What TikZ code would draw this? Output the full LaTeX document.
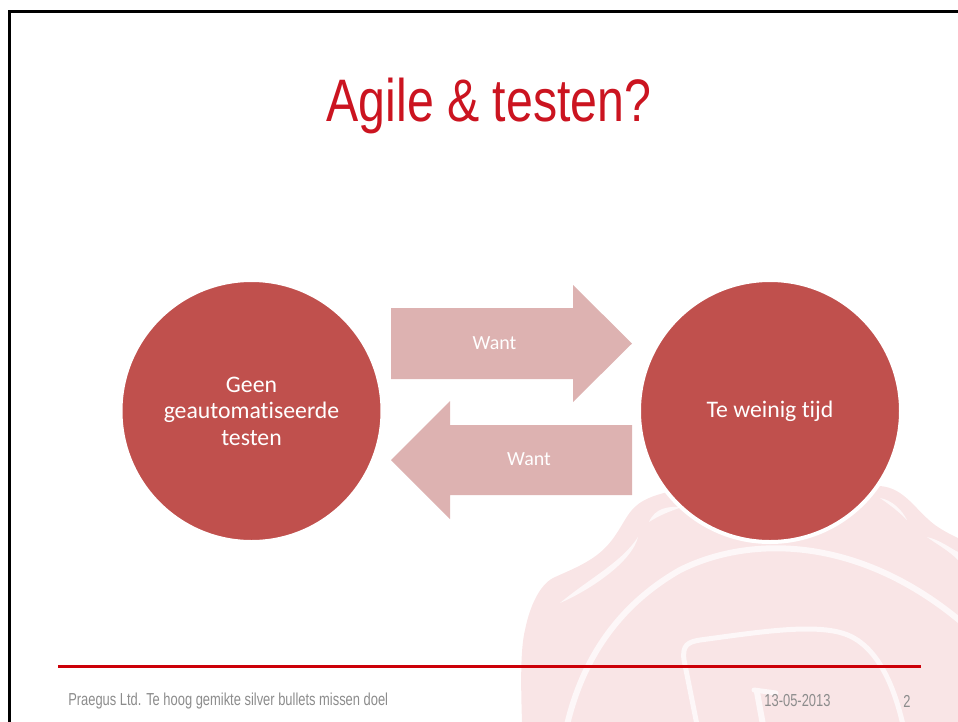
\documentclass[tikz,border=0pt]{standalone}
\usepackage{fontspec}
\setmainfont[Ligatures=NoCommon]{Carlito}
\newfontfamily\titlefont[FakeStretch=0.805]{Liberation Sans}
\newfontfamily\condfont[FakeStretch=0.745]{Liberation Sans}
\definecolor{sealred}{HTML}{C0504D}
\definecolor{wantred}{HTML}{DDB2B1}
\definecolor{waxpink}{HTML}{F9E5E6}
\definecolor{titlered}{HTML}{CB1420}
\definecolor{linered}{HTML}{CC0008}
\definecolor{footgray}{HTML}{8C8C8C}
\tikzstyle{cause} = [circle, draw=white, line width=3pt, fill=sealred, text=white, minimum size=196.5pt, inner sep=0pt, align=center, font=\fontsize{17.8}{19.9}\selectfont]
\tikzstyle{wantarrow} = [fill=wantred]
\tikzstyle{wantlabel} = [text=white, inner sep=0pt, font=\fontsize{15}{17}\selectfont]
\tikzstyle{footer} = [text=footgray, inner sep=0pt, font=\condfont\fontsize{13}{15}\selectfont]
\tikzstyle{waxline} = [draw=white!70!waxpink, line cap=round, line join=round]

\begin{document}
\begin{tikzpicture}[x=0.75pt, y=-0.75pt]
    \useasboundingbox (0,0) rectangle (958,722);
    \begin{scope}
        \clip (0,0) rectangle (958,722);
        % wax seal
        \fill[waxpink] (522,722) .. controls (521,690) and (520,650) .. (525,630)
            .. controls (530,605) and (540,585) .. (553,578)
            .. controls (570,570) and (590,563) .. (605,548)
            .. controls (620,533) and (625,515) .. (636,506)
            .. controls (650,493) and (680,490) .. (700,485)
            .. controls (760,470) and (850,470) .. (880,486)
            .. controls (905,488) and (915,510) .. (935,525)
            .. controls (945,532) and (952,535) .. (958,538) -- (958,722) -- cycle;
        \draw[waxline, line width=4.5pt] (567,725) .. controls (580,670) and (610,610) .. (680,570)
            .. controls (750,535) and (860,535) .. (965,625);
        \draw[waxline, line width=3.75pt] (697,725) -- (684,660) .. controls (682,645) and (688,642) .. (700,640)
            .. controls (760,632) and (820,622) .. (850,636)
            .. controls (880,650) and (895,690) .. (903,725);
        \draw[waxline, line width=3.75pt] (754,690) -- (776,693);
        \draw[waxline, line width=4.5pt] (757,692) -- (763,725);
        \fill[white!70!waxpink] (560,603) .. controls (590,578) and (622,562) .. (638,537)
            .. controls (632,562) and (590,590) .. cycle;
        \fill[white!70!waxpink] (649,522) .. controls (655,508) and (668,506) .. (682,507)
            .. controls (668,512) and (660,515) .. cycle;
        \fill[white!70!waxpink] (880,498) .. controls (892,500) and (902,510) .. (907,520)
            .. controls (897,510) and (890,505) .. cycle;
        \fill[white!70!waxpink] (927,537) .. controls (940,540) and (950,548) .. (958,552) -- (958,560)
            .. controls (948,550) and (938,545) .. cycle;
        % frame
        \draw[black, line width=2.25pt] (9.5,11) rectangle (975,740);
    \end{scope}
    \draw (489,121) node[anchor=base, text=titlered, inner sep=0pt, font=\titlefont\fontsize{45}{50}\selectfont] (T) {Agile \& testen?};
    \draw (251.5,411) node[cause] (A) {Geen\\geautomatiseerde\\testen};
    \draw (770,411) node[cause] (B) {Te weinig tijd};
    \fill[wantarrow] (391,308) -- (573,308) -- (573,285) -- (632,343.5) -- (573,402) -- (573,379) -- (391,379) -- cycle;
    \fill[wantarrow] (632,425) -- (450,425) -- (450,401) -- (391,460) -- (450,519) -- (450,495) -- (632,495) -- cycle;
    \draw (494.5,343) node[wantlabel] (W) {Want};
    \draw (529,459.5) node[wantlabel] (X) {Want};
    \fill[linered] (58,664.5) rectangle (921,667.5);
    \draw (68,701) node[footer, anchor=west] (F) {Praegus Ltd. Te hoog gemikte silver bullets missen doel};
    \draw (797.5,701) node[footer] (D) {13-05-2013};
    \draw (907,701) node[footer] (P) {2};
\end{tikzpicture}
\end{document}
